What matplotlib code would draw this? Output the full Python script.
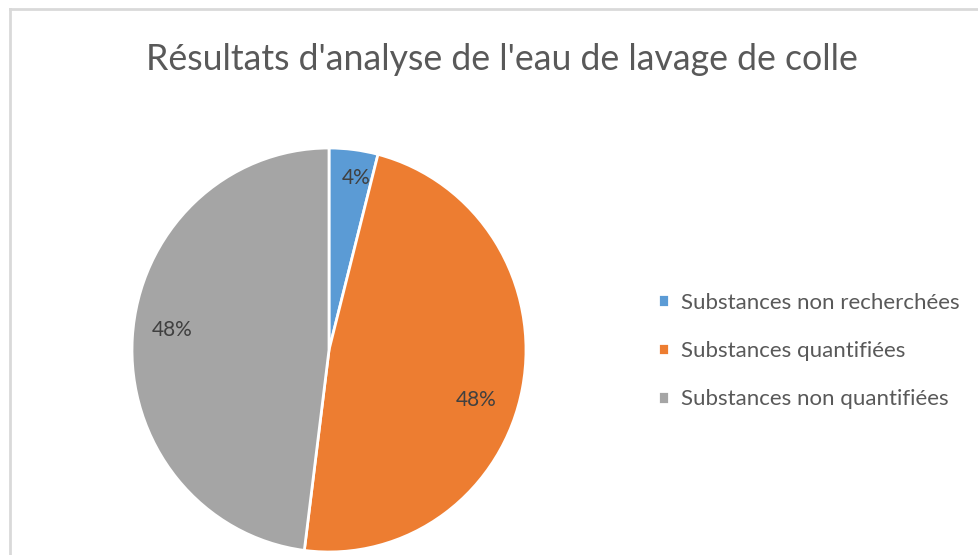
import matplotlib
matplotlib.use('Agg')
import matplotlib.pyplot as plt
from matplotlib.lines import Line2D

title = "Résultats d'analyse de l'eau de lavage de colle"
labels = ['Substances non recherchées', 'Substances quantifiées', 'Substances non quantifiées']
values = [4, 48, 48]
colors = ['#5B9BD5', '#ED7D31', '#A5A5A5']

plt.rcParams['font.family'] = ['Lato', 'DejaVu Sans']

W, H = 979, 555
fig = plt.figure(figsize=(W / 100, H / 100), dpi=100)

# cadre gris (haut et gauche visibles)
fig.add_artist(Line2D([10 / W, 1], [1 - 9 / H, 1 - 9 / H], color='#d9d9d9', lw=2))
fig.add_artist(Line2D([10 / W, 10 / W], [0, 1 - 9 / H], color='#d9d9d9', lw=2))

fig.text(502 / W, 1 - 59 / H, title, ha='center', va='center', fontsize=25.7,
         color='#595959')

ax = fig.add_axes([132 / W, 3 / H, 394 / W, 404 / H])
wedges, texts, autotexts = ax.pie(values, colors=colors, startangle=90, counterclock=False,
                                  autopct='%d%%', pctdistance=0.8,
                                  wedgeprops=dict(edgecolor='white', linewidth=2),
                                  textprops=dict(color='#404040', fontsize=15))
ax.set_aspect('auto')
ax.set_xlim(-1.0, 1.0)
ax.set_ylim(-1.0, 1.0)
# petits décalages des étiquettes comme dans Excel
x, y = autotexts[0].get_position()
autotexts[0].set_position((x * 1.35, y * 1.07))
x, y = autotexts[1].get_position()
autotexts[1].set_position((x * 0.95, y - 0.1))
x, y = autotexts[2].get_position()
autotexts[2].set_position((x, y + 0.05))

fig.legend(wedges, labels, loc='center left', bbox_to_anchor=(638 / W, 1 - 351 / H),
           frameon=False, fontsize=16, handlelength=0.5, handleheight=0.5,
           handletextpad=0.55, labelspacing=1.28, labelcolor='#595959')

fig.savefig('out.png', dpi=100)
